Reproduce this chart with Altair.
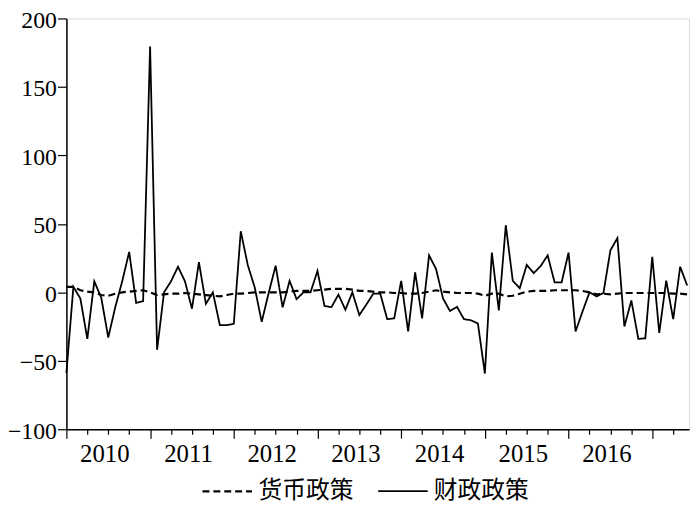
import altair as alt
import pandas as pd

# month index 0 = Jan 2010
years = [2010, 2011, 2012, 2013, 2014, 2015, 2016]

fiscal = [
    -59, 4, -4.5, -34, 8, -4, -33, -11, 8, 29.5, -7.7, -6.5,
    179.5, -42, 0, 8, 18.7, 8, -12, 22, -8.4, 0, -24, -24,
    -23, 44.6, 20, 3.6, -21.6, -0.5, 19.4, -11, 8.4, -5, 0, 0,
    15.6, -10, -10.8, -1.7, -12.7, 0, -16.6, -9, -1, -1, -19.6, -19,
    8.4, -28.6, 14.6, -19, 27, 17, -4.5, -13.7, -10.6, -19.6, -20.4, -22.8,
    -59.3, 29, -13.2, 49, 8.4, 3, 20, 14, 19.2, 27, 7.2, 7.2,
    29, -28.6, -14, 0, -3, -0.5, 30.7, 39.6, -25, -6, -34, -33.6,
    26, -29.7, 8.6, -19.6, 18.7, 5,
]

monetary = [
    4, 4, 1.5, 0.5, 0, -2, -2.5, -1, 0, 0.5, 1, 1.5,
    0, -2, -1.5, -1, -1, -0.5, -1, -1.5, -2, -2.5, -3, -2,
    -1, -1, -0.5, 0, 0, 0, 0, 0, 0.5, 1, 1, 1,
    1.5, 2, 2.5, 2.5, 2.5, 2, 1, 1, 0.5, 0, 0, -0.5,
    -0.5, -1, -1, -0.5, 0.5, 1.5, 0.5, 0, -0.5, -0.5, -0.5, -1,
    -2.5, -1, -1, -3, -2.5, -1, 0.5, 1, 1, 1, 1.5, 1.5,
    1.5, 1.5, 1, 0, -1.5, -1, -1.5, -1, -0.5, -0.5, -0.5, -0.5,
    -0.5, -0.5, -0.5, -1, -1, -1.5,
]

series_names = ["货币政策", "财政政策"]

rows = []
for i, v in enumerate(monetary):
    rows.append({"t": i, "v": v, "s": series_names[0]})
for i, v in enumerate(fiscal):
    rows.append({"t": i, "v": v, "s": series_names[1]})
df = pd.DataFrame(rows)

SERIF = "Times New Roman, Liberation Serif, Tinos, DejaVu Serif, serif"

base_year = years[0]
label_expr = (
    f"datum.value % 12 === 6 ? '' + ({base_year} + floor(datum.value / 12)) : ''"
)

x_axis = alt.Axis(
    values=list(range(0, 88, 3)),
    labelExpr=label_expr,
    tickSize={"condition": {"test": "datum.value % 12 === 0", "value": 9}, "value": 5},
    labelOverlap=False,
    labelFlush=False,
    grid=False,
    title=None,
    labelFont=SERIF,
    labelFontSize=25,
    labelColor="black",
    labelPadding=8,
    labelOffset=-4,
    domainColor="black",
    domainWidth=1.5,
    tickColor="black",
    tickWidth=1.2,
)

y_axis = alt.Axis(
    values=[-100, -50, 0, 50, 100, 150, 200],
    grid=False,
    title=None,
    labelFont=SERIF,
    labelFontSize=24,
    labelColor="black",
    labelPadding=1,
    labelOffset=2,
    tickSize=9,
    tickColor="black",
    tickWidth=1.2,
    domainColor="black",
    domainWidth=1.5,
)

chart = (
    alt.Chart(df)
    .mark_line(color="black")
    .encode(
        x=alt.X("t:Q", scale=alt.Scale(domain=[0, 89.27], nice=False, zero=False), axis=x_axis),
        y=alt.Y("v:Q", scale=alt.Scale(domain=[-100, 200], nice=False), axis=y_axis),
        strokeDash=alt.StrokeDash(
            "s:N",
            scale=alt.Scale(domain=series_names, range=[[7, 4], [1, 0]]),
            legend=alt.Legend(
                orient="none",
                legendX=136,
                legendY=451,
                direction="horizontal",
                title=None,
                symbolType="stroke",
                symbolSize=2500,
                symbolStrokeWidth=2,
                symbolStrokeColor="black",
                labelFont="Noto Sans CJK SC",
                labelFontSize=24,
                labelColor="black",
                labelOffset=5,
                columnPadding=21,
            ),
        ),
        strokeWidth=alt.StrokeWidth(
            "s:N",
            scale=alt.Scale(domain=series_names, range=[2.2, 1.8]),
            legend=None,
        ),
        detail="s:N",
    )
    .properties(
        width=629,
        height=415,
        autosize=alt.AutoSizeParams(type="none"),
        padding={"left": 59, "top": 8, "right": 3, "bottom": 76},
    )
    .configure_view(stroke="black", strokeWidth=1.5)
    .configure(background="white")
)

chart.save("out.html", embed_options={"renderer": "svg", "actions": False})
